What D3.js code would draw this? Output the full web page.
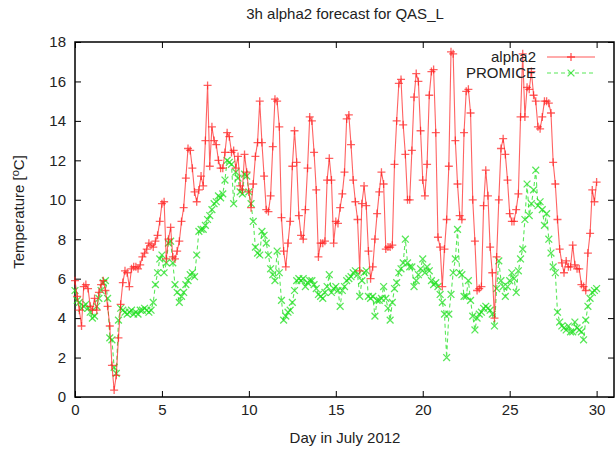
<!DOCTYPE html>
<html>
<head>
<meta charset="utf-8">
<script src="https://cdn.jsdelivr.net/npm/d3@7"></script>
<style>
  body { margin: 0; background: #fff; }
  svg text { font-family: "Liberation Sans", Arial, sans-serif; fill: #222; }
</style>
</head>
<body>
<div id="chart"></div>
<script>
// 3-hourly values, one row per day of July 2012 (first sample at day 0)
const stepDays = 0.125;

const alpha2 = [
  5.9, 5.1, 4.4, 3.6, 5.6, 5.7, 5.5, 4.6,
  4.4, 5.0, 4.4, 5.3, 5.7, 5.9, 5.4, 4.6,
  3.6, 1.6, 0.35, 1.1, 3.0, 4.7, 5.8, 6.4,
  6.3, 5.6, 6.5, 6.6, 6.6, 6.5, 6.7, 7.1,
  7.3, 7.5, 7.8, 7.7, 7.6, 7.9, 8.2, 8.9,
  9.8, 9.9, 7.0, 8.0, 8.6, 7.1, 7.0, 7.4,
  7.9, 8.9, 9.6, 11.1, 12.6, 12.5, 11.6, 10.4,
  9.9, 10.5, 11.2, 10.7, 13.0, 15.8, 11.7, 13.7,
  13.0, 12.8, 12.0, 11.6, 11.6, 12.4, 13.4, 13.2,
  12.4, 12.5, 11.6, 12.2, 10.7, 10.5, 12.3, 11.4,
  10.4, 9.6, 10.8, 12.2, 12.9, 15.0, 12.9, 11.2,
  9.5, 9.4, 10.2, 12.7, 15.1, 15.0, 13.7, 9.1,
  7.4, 6.6, 7.8, 8.9, 11.7, 13.5, 11.9, 9.2,
  8.2, 8.0, 9.5, 11.6, 14.2, 14.0, 12.4, 10.5,
  7.1, 7.8, 7.8, 7.9, 11.0, 12.1, 11.0, 7.8,
  8.9, 8.8, 9.6, 10.3, 11.4, 14.1, 14.3, 12.8,
  11.0, 9.9, 9.0, 6.4, 9.8, 10.7, 9.7, 7.4,
  6.0, 6.6, 8.0, 9.3, 10.4, 11.4, 10.8, 7.5,
  7.6, 7.6, 7.7, 11.8, 14.0, 15.9, 16.1, 13.8,
  12.3, 10.0, 10.0, 12.5, 15.2, 16.4, 16.0, 13.5,
  11.0, 10.2, 11.8, 15.3, 16.5, 16.6, 13.4, 8.1,
  7.6, 5.6, 7.5, 9.0, 11.7, 17.5, 17.4, 13.0,
  10.8, 9.2, 9.0, 13.4, 15.5, 15.6, 14.4, 10.0,
  7.9, 5.4, 5.5, 5.6, 9.7, 11.5, 10.2, 7.6,
  6.3, 4.0, 7.1, 10.0, 12.6, 13.1, 12.3, 11.0,
  9.3, 8.9, 8.9, 9.5, 10.3, 14.2, 17.4, 14.2,
  15.7, 15.6, 16.5, 15.3, 15.0, 13.7, 13.6, 14.2,
  15.0, 15.0, 14.9, 14.4, 11.9, 10.8, 9.0, 7.5,
  6.8, 6.3, 6.9, 6.6, 6.6, 7.7, 6.7, 6.5,
  6.5, 5.7, 5.6, 5.4, 7.3, 8.3, 10.5, 9.9,
  10.9
];

const promice = [
  5.4, 4.9, 4.8, 4.5, 4.6, 4.7, 4.5, 4.3,
  4.0, 4.1, 4.6, 5.0, 5.4, 5.8, 5.9, 5.0,
  3.0, 2.9, 1.5, 1.2, 3.9, 4.5, 4.4, 4.3,
  4.2, 4.3, 4.4, 4.2, 4.3, 4.2, 4.4, 4.4,
  4.5, 4.4, 4.3, 4.4, 4.8, 5.7, 6.3, 7.0,
  7.2, 6.3, 6.8, 7.8, 7.9, 6.8, 5.7, 5.3,
  4.8, 5.1, 5.3, 5.7, 5.9, 6.2, 6.3, 6.1,
  7.2, 8.4, 8.5, 8.5, 8.7, 9.0, 9.2, 9.5,
  9.8, 9.9, 10.2, 10.1, 10.3, 11.0, 12.0, 11.9,
  11.8, 9.8, 11.4, 11.1, 10.4, 10.3, 11.3, 11.2,
  10.4, 9.8, 8.9, 7.6, 7.3, 7.2, 8.4, 8.2,
  7.8, 7.2, 6.5, 6.2, 5.9, 7.4, 6.3, 4.9,
  3.9, 4.1, 4.3, 4.4, 4.8, 5.4, 5.9, 6.0,
  5.9, 6.0, 5.6, 5.8, 5.9, 5.9, 5.7, 5.5,
  5.2, 5.1, 5.0, 5.3, 5.6, 6.2, 5.3, 5.5,
  5.6, 5.4, 4.6, 5.4, 5.6, 5.9, 6.0, 6.1,
  6.3, 6.4, 6.2, 5.1, 5.9, 6.3, 6.4, 5.1,
  5.0, 5.1, 4.1, 4.9, 4.9, 5.0, 5.6, 5.0,
  4.5, 3.9, 4.8, 5.5, 5.8, 6.3, 6.5, 6.8,
  8.0, 6.8, 6.6, 6.6, 5.6, 5.9, 6.2, 6.5,
  7.0, 6.3, 6.6, 6.4, 5.9, 5.7, 5.8, 5.6,
  5.2, 4.8, 4.2, 2.0, 4.2, 5.2, 6.3, 7.0,
  8.5, 6.3, 6.2, 5.1, 5.1, 5.9, 4.9, 4.1,
  3.4, 4.0, 4.2, 4.3, 4.5, 4.6, 4.5, 4.4,
  4.2, 3.6, 5.5, 6.9, 5.9, 5.6, 5.1, 5.6,
  5.9, 6.3, 6.0, 5.3, 6.4, 7.0, 7.5, 9.0,
  10.8, 9.2, 9.8, 10.5, 11.5, 9.7, 9.9, 9.5,
  8.7, 9.3, 8.0, 7.3, 6.6, 6.3, 4.3, 3.8,
  3.6, 3.5, 3.4, 3.6, 3.3, 3.3, 3.8, 3.5,
  3.4, 3.3, 2.9, 3.9, 4.6, 5.0, 5.3, 5.4,
  5.5
];

const xTicks = [0, 5, 10, 15, 20, 25, 30];
const yTicks = [0, 2, 4, 6, 8, 10, 12, 14, 16, 18];
const seriesNames = ["alpha2", "PROMICE"];

const W = 615, H = 450;
const plotLeft = 75, plotRight = 614, plotTop = 42, plotBottom = 397;

const svg = d3.select("#chart").append("svg")
  .attr("width", W).attr("height", H);

const x = d3.scaleLinear().domain([0, 31]).range([plotLeft, plotRight]);
const y = d3.scaleLinear().domain([0, 18]).range([plotBottom, plotTop]);

// title
svg.append("text")
  .attr("x", 345).attr("y", 19)
  .attr("text-anchor", "middle")
  .style("font-size", "15px")
  .text("3h alpha2 forecast for QAS_L");

// axes (ticks inside, mirrored on top/right)
function styleAxis(g) {
  g.select(".domain").remove();
  g.selectAll(".tick line").attr("stroke", "#000").attr("stroke-width", 1);
  g.selectAll(".tick text").style("font-size", "15px").attr("fill", "#222")
    .style("font-family", '"Liberation Sans", Arial, sans-serif');
}

svg.append("g")
  .attr("transform", "translate(0," + plotBottom + ")")
  .call(d3.axisBottom(x).tickValues(xTicks).tickSizeInner(-6).tickSizeOuter(0).tickPadding(7))
  .call(styleAxis);

svg.append("g")
  .attr("transform", "translate(0," + plotTop + ")")
  .call(d3.axisTop(x).tickValues(xTicks).tickSizeInner(-6).tickSizeOuter(0).tickFormat(""))
  .call(styleAxis);

svg.append("g")
  .attr("transform", "translate(" + plotLeft + ",0)")
  .call(d3.axisLeft(y).tickValues(yTicks).tickSizeInner(-6).tickSizeOuter(0).tickPadding(9))
  .call(styleAxis);

svg.append("g")
  .attr("transform", "translate(" + plotRight + ",0)")
  .call(d3.axisRight(y).tickValues(yTicks).tickSizeInner(-6).tickSizeOuter(0).tickFormat(""))
  .call(styleAxis);

// frame
svg.append("rect")
  .attr("x", plotLeft).attr("y", plotTop)
  .attr("width", plotRight - plotLeft).attr("height", plotBottom - plotTop)
  .attr("fill", "none").attr("stroke", "#000").attr("stroke-width", 1.5);

// axis labels
svg.append("text")
  .attr("x", 345).attr("y", 443)
  .attr("text-anchor", "middle")
  .style("font-size", "15px")
  .text("Day in July 2012");

const yLab = svg.append("text")
  .attr("transform", "translate(24,212) rotate(-90)")
  .attr("text-anchor", "middle")
  .style("font-size", "15px");
yLab.append("tspan").text("Temperature [");
yLab.append("tspan").attr("dy", -5).style("font-size", "11px").text("o");
yLab.append("tspan").attr("dy", 5).text("C]");

// series
const plusPath = "M-4,0H4M0,-4V4";
const crossPath = "M-3.4,-3.4L3.4,3.4M-3.4,3.4L3.4,-3.4";
const redColor = "#ff2020";
const greenColor = "#22e022";

const line = d3.line()
  .x((d, i) => x(i * stepDays))
  .y(d => y(d));

const plot = svg.append("g");

plot.append("path")
  .datum(promice)
  .attr("d", line)
  .attr("fill", "none")
  .attr("stroke", greenColor)
  .attr("stroke-width", 1.1)
  .attr("stroke-dasharray", "4,3")
  .attr("opacity", 0.75);

plot.selectAll(".pm").data(promice).enter().append("path")
  .attr("transform", (d, i) => "translate(" + x(i * stepDays) + "," + y(d) + ")")
  .attr("d", crossPath)
  .attr("stroke", greenColor)
  .attr("stroke-width", 1.3)
  .attr("opacity", 0.75);

plot.append("path")
  .datum(alpha2)
  .attr("d", line)
  .attr("fill", "none")
  .attr("stroke", redColor)
  .attr("stroke-width", 1.1)
  .attr("opacity", 0.7);

plot.selectAll(".am").data(alpha2).enter().append("path")
  .attr("transform", (d, i) => "translate(" + x(i * stepDays) + "," + y(d) + ")")
  .attr("d", plusPath)
  .attr("stroke", redColor)
  .attr("stroke-width", 1.3)
  .attr("opacity", 0.7);

// legend
const legend = svg.append("g");
const legendRows = [
  { name: seriesNames[0], color: redColor, dash: null, marker: plusPath },
  { name: seriesNames[1], color: greenColor, dash: "4,3", marker: crossPath }
];
legendRows.forEach((r, i) => {
  const ly = 57 + i * 16;
  legend.append("text")
    .attr("x", 536).attr("y", ly + 5)
    .attr("text-anchor", "end")
    .style("font-size", "15px")
    .text(r.name);
  legend.append("line")
    .attr("x1", 547).attr("x2", 595).attr("y1", ly).attr("y2", ly)
    .attr("stroke", r.color).attr("stroke-width", 1.1)
    .attr("stroke-dasharray", r.dash).attr("opacity", 0.75);
  legend.append("path")
    .attr("transform", "translate(571," + ly + ")")
    .attr("d", r.marker)
    .attr("stroke", r.color).attr("stroke-width", 1.3).attr("opacity", 0.75);
});
</script>
</body>
</html>
